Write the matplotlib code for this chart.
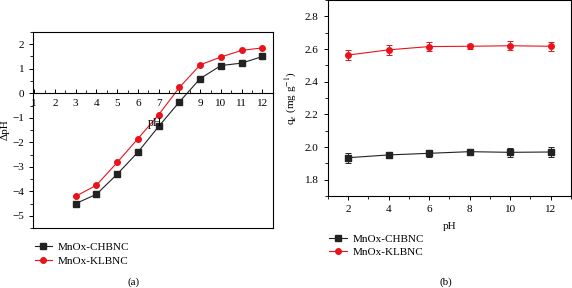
import numpy as np
import matplotlib
matplotlib.use('Agg')
import matplotlib.pyplot as plt
from matplotlib.ticker import MultipleLocator

plt.rcParams['font.family'] = ['Liberation Serif', 'DejaVu Serif']
plt.rcParams['font.size'] = 8
plt.rcParams['mathtext.fontset'] = 'stix'

# (a) delta pH vs initial pH
ph_a = [3, 4, 5, 6, 7, 8, 9, 10, 11, 12]
dph_chbnc = [-4.5, -4.12, -3.3, -2.4, -1.35, -0.35, 0.6, 1.13, 1.23, 1.5]
dph_klbnc = [-4.2, -3.75, -2.82, -1.85, -0.87, 0.24, 1.16, 1.48, 1.75, 1.85]

# (b) qe vs pH
ph_b = [2, 4, 6, 8, 10, 12]
qe_chbnc = [1.935, 1.952, 1.962, 1.972, 1.968, 1.970]
err_chbnc = [0.03, 0.02, 0.022, 0.008, 0.028, 0.028]
qe_klbnc = [2.563, 2.595, 2.615, 2.617, 2.620, 2.617]
err_klbnc = [0.03, 0.03, 0.03, 0.015, 0.028, 0.028]

labels = ['MnOx-CHBNC', 'MnOx-KLBNC']
colors = ['#222222', '#e8141c']
markers = ['s', 'o']

fig = plt.figure(figsize=(5.72, 2.88), dpi=100)

leg_kw = dict(loc='upper left', frameon=False, handlelength=1.6, handletextpad=0.5,
              labelspacing=0.35, borderaxespad=0, fontsize=8)

# ---- panel (a)
ax1 = fig.add_axes([0.058, 0.208, 0.419, 0.681])
for y, c, m, lab in zip([dph_chbnc, dph_klbnc], colors, markers, labels):
    ax1.plot(ph_a, y, color=c, marker=m, ms=4, lw=0.8, label=lab)
ax1.set_xlim(0.95, 12.5)
ax1.set_ylim(-5.5, 2.5)
ax1.spines['bottom'].set_position(('data', 0))
ax1.plot([0, 1], [0, 0], transform=ax1.transAxes, color='k', lw=0.8, clip_on=False)
for s in ax1.spines.values():
    s.set_linewidth(0.8)
ax1.xaxis.set_major_locator(MultipleLocator(1))
ax1.xaxis.set_minor_locator(MultipleLocator(0.5))
ax1.yaxis.set_major_locator(MultipleLocator(1))
ax1.yaxis.set_minor_locator(MultipleLocator(0.5))
ax1.tick_params(axis='x', which='both', direction='in', pad=4)
ax1.tick_params(axis='x', which='major', length=3, width=0.7)
ax1.tick_params(axis='x', which='minor', length=2, width=0.6)
ax1.tick_params(axis='y', which='major', direction='out', length=3, width=0.7)
ax1.tick_params(axis='y', which='minor', direction='out', length=2, width=0.6)
ax1.set_ylabel('ΔpH', labelpad=2)
ax1.text(6.8, -1.2, 'pH', fontsize=8.5, ha='center', va='center')
ax1.legend(bbox_to_anchor=(-0.013, -0.05), **leg_kw)
fig.text(0.233, 0.021, '(a)', ha='center', va='center', fontsize=8)

# ---- panel (b)
ax2 = fig.add_axes([0.573, 0.319, 0.425, 0.681])
for y, e, c, m, lab in zip([qe_chbnc, qe_klbnc], [err_chbnc, err_klbnc], colors, markers, labels):
    ax2.errorbar(ph_b, y, yerr=e, color=c, fmt='none', elinewidth=0.7,
                 capsize=2, capthick=0.7)
    ax2.plot(ph_b, y, color=c, marker=m, ms=4, lw=0.8, label=lab)
ax2.set_xlim(1, 13)
ax2.set_ylim(1.7, 2.9)
for s in ax2.spines.values():
    s.set_linewidth(0.8)
ax2.xaxis.set_major_locator(MultipleLocator(2))
ax2.xaxis.set_minor_locator(MultipleLocator(1))
ax2.yaxis.set_major_locator(MultipleLocator(0.2))
ax2.yaxis.set_minor_locator(MultipleLocator(0.1))
ax2.tick_params(which='major', direction='out', length=3, width=0.7)
ax2.tick_params(which='minor', direction='out', length=2, width=0.6)
ax2.set_xlabel('pH', labelpad=6)
ax2.set_ylabel('q$_e$ (mg g$^{-1}$)', labelpad=4)
ax2.legend(bbox_to_anchor=(-0.012, -0.17), **leg_kw)
fig.text(0.78, 0.021, '(b)', ha='center', va='center', fontsize=8)

fig.savefig('out.png', dpi=100)
